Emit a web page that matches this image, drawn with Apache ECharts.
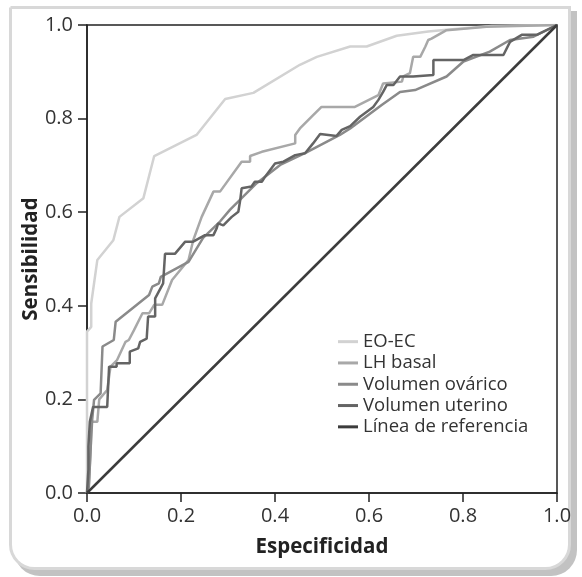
<!DOCTYPE html>
<html>
<head>
<meta charset="utf-8">
<script src="https://cdn.jsdelivr.net/npm/echarts@6/dist/echarts.min.js"></script>
<style>html,body{margin:0;padding:0;background:#fff;}#c{width:582px;height:577px;}</style>
</head>
<body>
<div id="c"></div>
<script>
const seriesNames = ['EO-EC', 'LH basal', 'Volumen ovárico', 'Volumen uterino', 'Línea de referencia'];
const xAxisTitle = 'Especificidad';
const yAxisTitle = 'Sensibilidad';

const eoec = [[0,0],[0,0.345],[0.009,0.355],[0.009,0.405],[0.022,0.498],[0.056,0.54],[0.069,0.59],[0.12,0.63],[0.143,0.72],[0.233,0.765],[0.294,0.842],[0.354,0.855],[0.453,0.915],[0.489,0.932],[0.56,0.954],[0.595,0.954],[0.659,0.977],[0.726,0.986],[0.765,0.99],[0.861,0.998],[1,1]];

const lhBasal = [[0,0],[0.004,0.02],[0.008,0.1],[0.009,0.152],[0.022,0.152],[0.026,0.2],[0.043,0.22],[0.05,0.27],[0.064,0.284],[0.082,0.323],[0.089,0.327],[0.1,0.348],[0.118,0.384],[0.132,0.384],[0.143,0.402],[0.16,0.402],[0.181,0.455],[0.216,0.498],[0.226,0.54],[0.244,0.59],[0.269,0.644],[0.283,0.644],[0.329,0.708],[0.347,0.708],[0.347,0.72],[0.372,0.729],[0.443,0.747],[0.443,0.765],[0.453,0.779],[0.478,0.804],[0.499,0.825],[0.57,0.825],[0.62,0.85],[0.63,0.875],[0.67,0.879],[0.673,0.89],[0.687,0.897],[0.694,0.932],[0.709,0.932],[0.72,0.954],[0.726,0.968],[0.733,0.971],[0.765,0.989],[0.85,0.996],[1,1]];

const volOvarico = [[0,0],[0.004,0.013],[0.008,0.1],[0.011,0.156],[0.015,0.199],[0.029,0.213],[0.033,0.313],[0.057,0.327],[0.061,0.366],[0.132,0.423],[0.139,0.441],[0.153,0.448],[0.157,0.462],[0.216,0.494],[0.247,0.545],[0.283,0.58],[0.304,0.605],[0.361,0.662],[0.411,0.701],[0.467,0.728],[0.538,0.765],[0.56,0.779],[0.627,0.829],[0.666,0.857],[0.698,0.861],[0.765,0.89],[0.801,0.922],[0.857,0.943],[0.9,0.968],[0.95,0.975],[1,1]];

const volUterino = [[0,0],[0.003,0.05],[0.003,0.099],[0.006,0.152],[0.013,0.184],[0.043,0.184],[0.047,0.27],[0.063,0.27],[0.063,0.277],[0.091,0.277],[0.091,0.302],[0.109,0.309],[0.113,0.323],[0.127,0.33],[0.13,0.377],[0.145,0.377],[0.145,0.416],[0.162,0.448],[0.166,0.448],[0.166,0.511],[0.187,0.511],[0.209,0.537],[0.226,0.537],[0.251,0.551],[0.269,0.551],[0.276,0.566],[0.279,0.576],[0.29,0.572],[0.301,0.583],[0.308,0.59],[0.322,0.601],[0.326,0.626],[0.329,0.651],[0.35,0.655],[0.357,0.665],[0.372,0.665],[0.379,0.676],[0.4,0.704],[0.418,0.708],[0.443,0.722],[0.464,0.726],[0.481,0.747],[0.496,0.767],[0.531,0.763],[0.542,0.776],[0.56,0.784],[0.581,0.804],[0.609,0.825],[0.62,0.84],[0.63,0.857],[0.638,0.872],[0.652,0.872],[0.666,0.89],[0.694,0.89],[0.737,0.893],[0.737,0.925],[0.801,0.925],[0.822,0.936],[0.886,0.936],[0.9,0.964],[0.925,0.979],[0.957,0.979],[1,1]];

const referencia = [[0,0],[1,1]];

const seriesData = [eoec, lhBasal, volOvarico, volUterino, referencia];
const colors = ['#d2d2d2', '#a8a8a8', '#8a8a8a', '#646464', '#3c3c3c'];

const chart = echarts.init(document.getElementById('c'), null, {renderer: 'canvas'});
const font = '"Open Sans", "Noto Sans", sans-serif';

chart.setOption({
  animation: false,
  backgroundColor: '#fff',
  graphic: [
    {type: 'rect', z: -10, shape: {x: 14, y: 11, width: 563, height: 565, r: [0, 0, 26, 26]}, style: {fill: '#c2c2c2'}},
    {type: 'rect', z: -9, shape: {x: 10.5, y: 7.5, width: 559, height: 561, r: [0, 0, 24, 24]}, style: {fill: '#fff', stroke: '#d8d8d8', lineWidth: 3}}
  ],
  grid: {left: 87, top: 25, width: 470, height: 468, show: true, borderColor: '#222', borderWidth: 1.5, backgroundColor: 'transparent'},
  legend: {
    orient: 'vertical', left: 333, top: 326, itemGap: 0, itemWidth: 20, itemHeight: 3, icon: 'rect',
    data: seriesNames,
    textStyle: {fontFamily: font, fontSize: 18.5, color: '#333', lineHeight: 21.3, padding: [0, 0, 0, 0]},
    itemStyle: {borderWidth: 0}
  },
  xAxis: {
    type: 'value', min: 0, max: 1, interval: 0.2,
    name: xAxisTitle, nameLocation: 'middle', nameGap: 44, nameMoveOverlap: false,
    nameTextStyle: {fontFamily: font, fontSize: 20.5, fontWeight: 'bold', color: '#222'},
    axisLine: {show: true, onZero: false, lineStyle: {color: '#222', width: 1.5}},
    axisTick: {show: true, length: 9, lineStyle: {color: '#222', width: 1.5}},
    axisLabel: {fontFamily: font, fontSize: 20, color: '#333', margin: 13, formatter: v => v.toFixed(1)},
    splitLine: {show: false}
  },
  yAxis: {
    type: 'value', min: 0, max: 1, interval: 0.2,
    name: yAxisTitle, nameLocation: 'middle', nameGap: 45, nameRotate: 90, nameMoveOverlap: false,
    nameTextStyle: {fontFamily: font, fontSize: 20.5, fontWeight: 'bold', color: '#222'},
    axisLine: {show: true, onZero: false, lineStyle: {color: '#222', width: 1.5}},
    axisTick: {show: true, length: 9, lineStyle: {color: '#222', width: 1.5}},
    axisLabel: {fontFamily: font, fontSize: 20, color: '#333', margin: 14, formatter: v => v.toFixed(1)},
    splitLine: {show: false}
  },
  series: seriesNames.map((n, i) => ({
    name: n, type: 'line', data: seriesData[i], symbol: 'none', smooth: false,
    color: colors[i],
    lineStyle: {color: colors[i], width: 2.5},
    z: 2 + i
  }))
});
</script>
</body>
</html>
